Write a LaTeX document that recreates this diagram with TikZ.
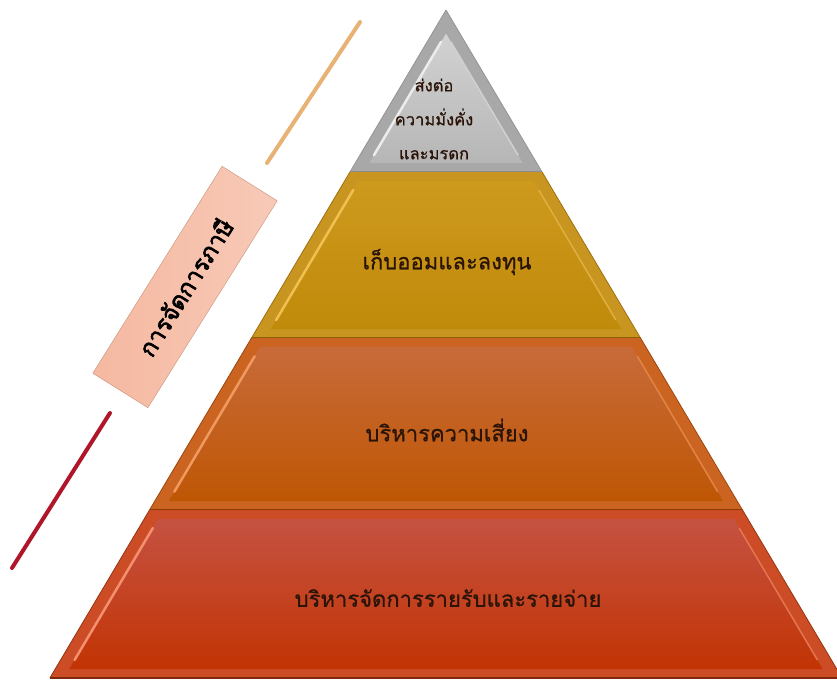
\documentclass[tikz,border=0pt]{standalone}
\usepackage{fontspec}
\usetikzlibrary{calc}
\newfontfamily\thaifont[Script=Thai,FakeBold=0.7]{Loma}
\newfontfamily\thaiheavy[Script=Thai,FakeBold=2.6]{Loma}
\definecolor{greyE}{HTML}{A8A8A8}
\definecolor{greyT}{HTML}{D2D2D2}
\definecolor{greyB}{HTML}{B6B6B6}
\definecolor{greyH}{HTML}{ECECEC}
\definecolor{greyD}{HTML}{8C8C8C}
\definecolor{goldE}{HTML}{C89620}
\definecolor{goldT}{HTML}{CE9A1E}
\definecolor{goldB}{HTML}{C08A0A}
\definecolor{goldH}{HTML}{F0C050}
\definecolor{goldD}{HTML}{8C6006}
\definecolor{orngE}{HTML}{CA6420}
\definecolor{orngT}{HTML}{C86B3A}
\definecolor{orngB}{HTML}{BE5604}
\definecolor{orngH}{HTML}{F09A60}
\definecolor{orngD}{HTML}{8A3A06}
\definecolor{redE}{HTML}{CC4C26}
\definecolor{redT}{HTML}{C55242}
\definecolor{redB}{HTML}{C23404}
\definecolor{redH}{HTML}{F49070}
\definecolor{redD}{HTML}{7E2A08}
\definecolor{tierink}{HTML}{2A1408}
\definecolor{taxfill}{HTML}{F5B8A0}
\definecolor{taxrim}{HTML}{C98F78}
\definecolor{topline}{HTML}{E8B274}
\definecolor{lowline}{HTML}{B0162A}
\tikzset{
    tierlabel/.style={font=\thaifont\fontsize{22}{26}\selectfont, text=tierink},
    apexlabel/.style={font=\thaifont\fontsize{16.5}{34}\selectfont, text=tierink, align=center},
    taxbox/.style={draw=taxrim, thin, left color=taxfill, right color=taxfill!75!white,
        minimum width=244, minimum height=65, inner sep=0pt,
        font=\thaiheavy\fontsize{24}{26}\selectfont, text=black},
    sideline/.style={line width=4, line cap=round},
}

\begin{document}
\begin{tikzpicture}[x=1pt,y=-1pt]
    \useasboundingbox (0,0) rectangle (837,681);
    \clip (0,0) rectangle (837,681);
    % pyramid tiers, top to bottom
    \foreach \yt/\yb/\yi/\lay in {10/172/34/grey,172/338/181/gold,338/510/347/orng,510/678/519/red}{
        \fill[fill=\lay E] ({446-0.593*(\yt-10)},\yt) -- ({446+0.593*(\yt-10)},\yt)
            -- ({446+0.593*(\yb-10)},\yb) -- ({446-0.593*(\yb-10)},\yb) -- cycle;
        \coordinate (\lay-tl) at ({446-max(0.593*(\yi-10)-14,0)},\yi);
        \coordinate (\lay-tr) at ({446+max(0.593*(\yi-10)-14,0)},\yi);
        \coordinate (\lay-br) at ({446+0.593*(\yb-19)-14},\yb-9);
        \coordinate (\lay-bl) at ({446-0.593*(\yb-19)+14},\yb-9);
        \shade[top color=\lay T, bottom color=\lay B] (\lay-tl) -- (\lay-tr) -- (\lay-br) -- (\lay-bl) -- cycle;
        \draw[draw=\lay H, line width=2.5, line cap=round] ($(\lay-tl)!0.06!(\lay-bl)$) -- ($(\lay-tl)!0.94!(\lay-bl)$);
        \draw[draw=\lay H!60!\lay E, line width=1.5] ($(\lay-tr)!0.06!(\lay-br)$) -- ($(\lay-tr)!0.94!(\lay-br)$);
        \draw[draw=\lay D, line width=2] ({446-0.593*(\yb-10)},\yb) -- ({446+0.593*(\yb-10)},\yb);
        \draw[draw=\lay D!70!\lay E, line width=0.8] ({446-0.593*(\yt-10)},\yt) -- ({446-0.593*(\yb-10)},\yb);
        \draw[draw=\lay D!70!\lay E, line width=0.8] ({446+0.593*(\yt-10)},\yt) -- ({446+0.593*(\yb-10)},\yb);
    }
    % tier texts
    \node[apexlabel] (legacy) at (434,119) {ส่งต่อ\\ความมั่งคั่ง\\และมรดก};
    \node[tierlabel] (saving) at (447,262) {เก็บออมและลงทุน};
    \node[tierlabel] (risk) at (447,430) {บริหารความเสี่ยง};
    \node[tierlabel] (budget) at (448,598) {บริหารจัดการรายรับและรายจ่าย};
    % tax management band
    \node[taxbox, rotate=58] (tax) at (185,287) {การจัดการภาษี};
    \coordinate (topA) at (360,22);
    \coordinate (topB) at (267,163);
    \coordinate (lowA) at (110,413);
    \coordinate (lowB) at (12,568);
    \draw[sideline, topline] (topA) -- (topB);
    \draw[sideline, lowline] (lowA) -- (lowB);
\end{tikzpicture}
\end{document}
